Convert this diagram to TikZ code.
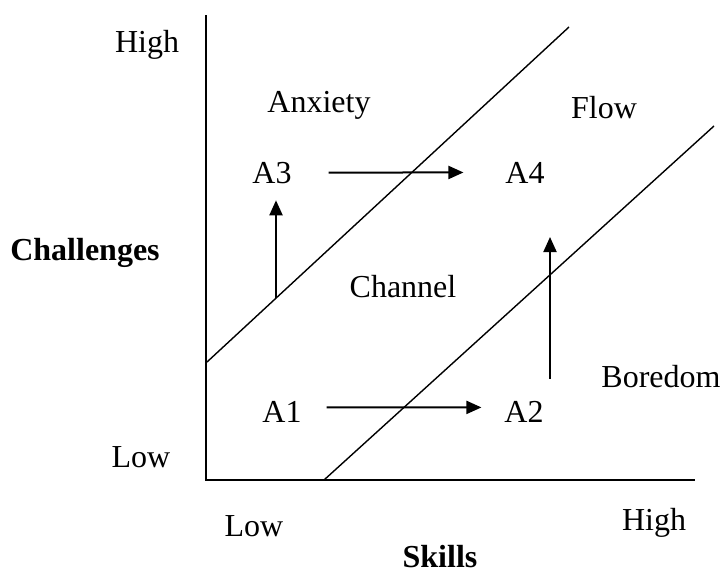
\documentclass[tikz,border=0pt]{standalone}
\usepackage{fontspec}
\setmainfont{Liberation Serif}
\usetikzlibrary{arrows.meta,calc}

\tikzset{
  zonelabel/.style={anchor=base, inner sep=0pt, font=\fontsize{16}{19}\selectfont},
  stagenode/.style={anchor=base, inner sep=3.3pt, font=\fontsize{16}{19}\selectfont},
  axistitle/.style={anchor=base, inner sep=0pt, font=\fontsize{16}{19}\selectfont\bfseries},
  axisline/.style={line width=1pt},
  channelline/.style={line width=0.7pt},
  flowarrow/.style={line width=1pt, -{Triangle[length=7.5pt,width=6.5pt]}}
}

\begin{document}
\begin{tikzpicture}[x=0.5pt, y=-0.5pt]
  \useasboundingbox (0,0) rectangle (728,573);

  % axes
  \coordinate (origin) at (206,480);
  \coordinate (ytop) at (206,15);
  \coordinate (xend) at (695,480);
  \draw[axisline] (ytop) -- (origin) -- (xend);

  % channel borders
  \coordinate (upperlow) at (207,362);
  \coordinate (upperhigh) at (569,27);
  \coordinate (lowerlow) at (324,480);
  \coordinate (lowerhigh) at (714,126);
  \draw[channelline] (upperlow) -- (upperhigh);
  \draw[channelline] (lowerlow) -- (lowerhigh);

  % axis labels
  \node[zonelabel] (chigh) at (147,52) {High};
  \node[zonelabel] (clow) at (141,467) {Low};
  \node[axistitle] (challenges) at (85,260) {Challenges};
  \node[zonelabel] (slow) at (254,536) {Low};
  \node[zonelabel] (shigh) at (654,530) {High};
  \node[axistitle] (skills) at (440,567) {Skills};

  % zones
  \node[zonelabel] (anxiety) at (319,112) {Anxiety};
  \node[zonelabel] (flow) at (604,118) {Flow};
  \node[zonelabel] (channel) at (403,297) {Channel};
  \node[zonelabel] (boredom) at (661,387) {Boredom};

  % stages
  \node[stagenode] (A3) at (272,183) {A3};
  \node[stagenode] (A4) at (525,183) {A4};
  \node[stagenode] (A1) at (282,422) {A1};
  \node[stagenode] (A2) at (524,422) {A2};

  % moves between stages
  \coordinate (a3foot) at (276,298);
  \draw[flowarrow, shorten >=5pt] (a3foot) -- (a3foot |- A3.south);
  \draw[flowarrow, shorten <=15pt, shorten >=17.5pt] (A3) -- (A4);
  \draw[flowarrow, shorten <=9pt, shorten >=8pt] ([yshift=2pt]A1.east) -- ([yshift=2pt]A2.west);
  \draw[flowarrow, shorten <=7.5pt, shorten >=23.5pt] ([xshift=13pt]A2.north) -- ([xshift=13pt]A2.north |- A4.south);
\end{tikzpicture}
\end{document}
